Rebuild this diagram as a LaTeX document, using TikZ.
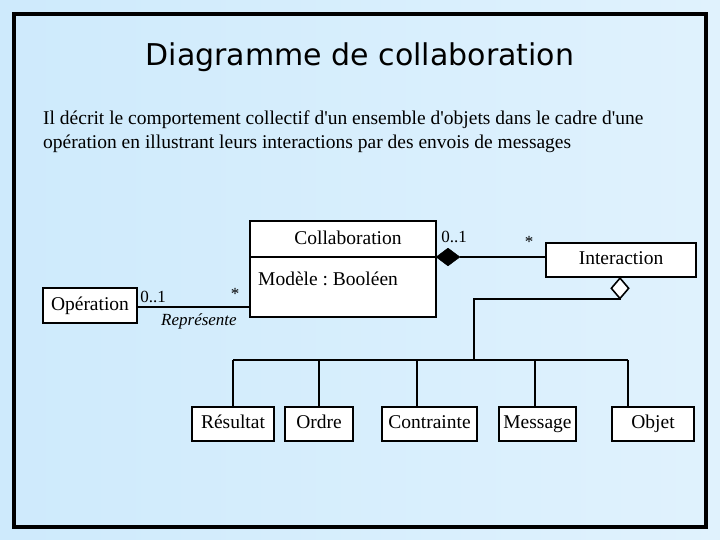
\documentclass[tikz,border=0pt]{standalone}
\usepackage{fontspec}
\setmainfont{Liberation Serif}
\newfontfamily\titlefont{DejaVu Sans}
\usetikzlibrary{shapes.geometric}
\definecolor{bgL}{RGB}{206,234,252}
\definecolor{bgR}{RGB}{224,242,253}
\tikzset{
  cls/.style={draw=black, line width=1.6pt, fill=white, inner sep=0pt, text height=13pt, text depth=4pt, font=\fontsize{19.5}{23}\selectfont},
  lnk/.style={line width=1.6pt, draw=black},
  mult/.style={inner sep=0pt, font=\fontsize{17}{20}\selectfont},
}
\begin{document}
\frenchspacing
\begin{tikzpicture}[x=1pt,y=-1pt]
\useasboundingbox (0,0) rectangle (720,540);
\shade[left color=bgL, right color=bgR] (0,0) rectangle (720,540);
\draw[line width=4pt] (14,14) rectangle (705.5,526.5);

\node[font=\titlefont\fontsize{30}{36}\selectfont, inner sep=0pt] (title) at (360,57) {Diagramme de collaboration};
\node[anchor=north west, inner sep=0pt, align=left, font=\fontsize{19.5}{23.5}\selectfont] (desc) at (43,111)
  {Il décrit le comportement collectif d\textquotesingle un ensemble d\textquotesingle objets dans le cadre d\textquotesingle une\\
   opération en illustrant leurs interactions par des envois de messages};

% Collaboration class
\node[cls, text height=0pt, text depth=0pt, minimum width=186pt, minimum height=96pt] (collab) at (343,269) {};
\coordinate (dl) at (250,257);
\coordinate (dr) at (436,257);
\draw[lnk] (dl) -- (dr);
\node[mult, font=\fontsize{19.5}{23}\selectfont] (cname) at (348,238) {Collaboration};
\node[mult, font=\fontsize{19.5}{23}\selectfont, anchor=west] (cattr) at (258,279) {Modèle : Booléen};

% Opération
\node[cls, minimum width=94pt, minimum height=35pt] (op) at (90,305.5) {Opération};
\coordinate (opc) at (250,307);
\draw[lnk] (op.east |- opc) -- (opc);
\node[mult] (m1) at (153,297) {0..1};
\node[mult] (m2) at (235,294) {*};
\node[mult, font=\fontsize{17}{20}\selectfont\itshape] (rep) at (199,321) {Représente};

% Interaction
\node[cls, minimum width=150pt, minimum height=34pt] (inter) at (621,260) {Interaction};
\node[diamond, fill=black, draw=black, inner sep=0pt, minimum width=24pt, minimum height=18pt] (fd) at (448,257) {};
\draw[lnk] (fd.east) -- (fd.east -| inter.west);
\node[mult] (m3) at (454,237) {0..1};
\node[mult] (m4) at (529,242) {*};
\node[diamond, fill=white, draw=black, line width=1.6pt, inner sep=0pt, minimum width=18pt, minimum height=21pt, anchor=north] (hd) at (620,277) {};

% parts
\node[cls, minimum width=82pt, minimum height=34pt] (res) at (233,424) {Résultat};
\node[cls, minimum width=68pt, minimum height=34pt] (ord) at (319,424) {Ordre};
\node[cls, minimum width=95pt, minimum height=34pt] (con) at (429.5,424) {Contrainte};
\node[cls, minimum width=77pt, minimum height=34pt] (msg) at (537.5,424) {Message};
\node[cls, minimum width=82pt, minimum height=34pt] (obj) at (653,424) {Objet};

\coordinate (j1) at (474,299);
\coordinate (j2) at (474,360);
\coordinate (bl) at (233,360);
\coordinate (br) at (628,360);
\coordinate (d2) at (319,360);
\coordinate (d3) at (417,360);
\coordinate (d4) at (535,360);
\draw[lnk] (hd.south) |- (j1) -- (j2);
\draw[lnk] (bl) -- (br);
\draw[lnk] (bl) -- (bl |- res.north);
\draw[lnk] (d2) -- (d2 |- ord.north);
\draw[lnk] (d3) -- (d3 |- con.north);
\draw[lnk] (d4) -- (d4 |- msg.north);
\draw[lnk] (br) -- (br |- obj.north);
\end{tikzpicture}
\end{document}
